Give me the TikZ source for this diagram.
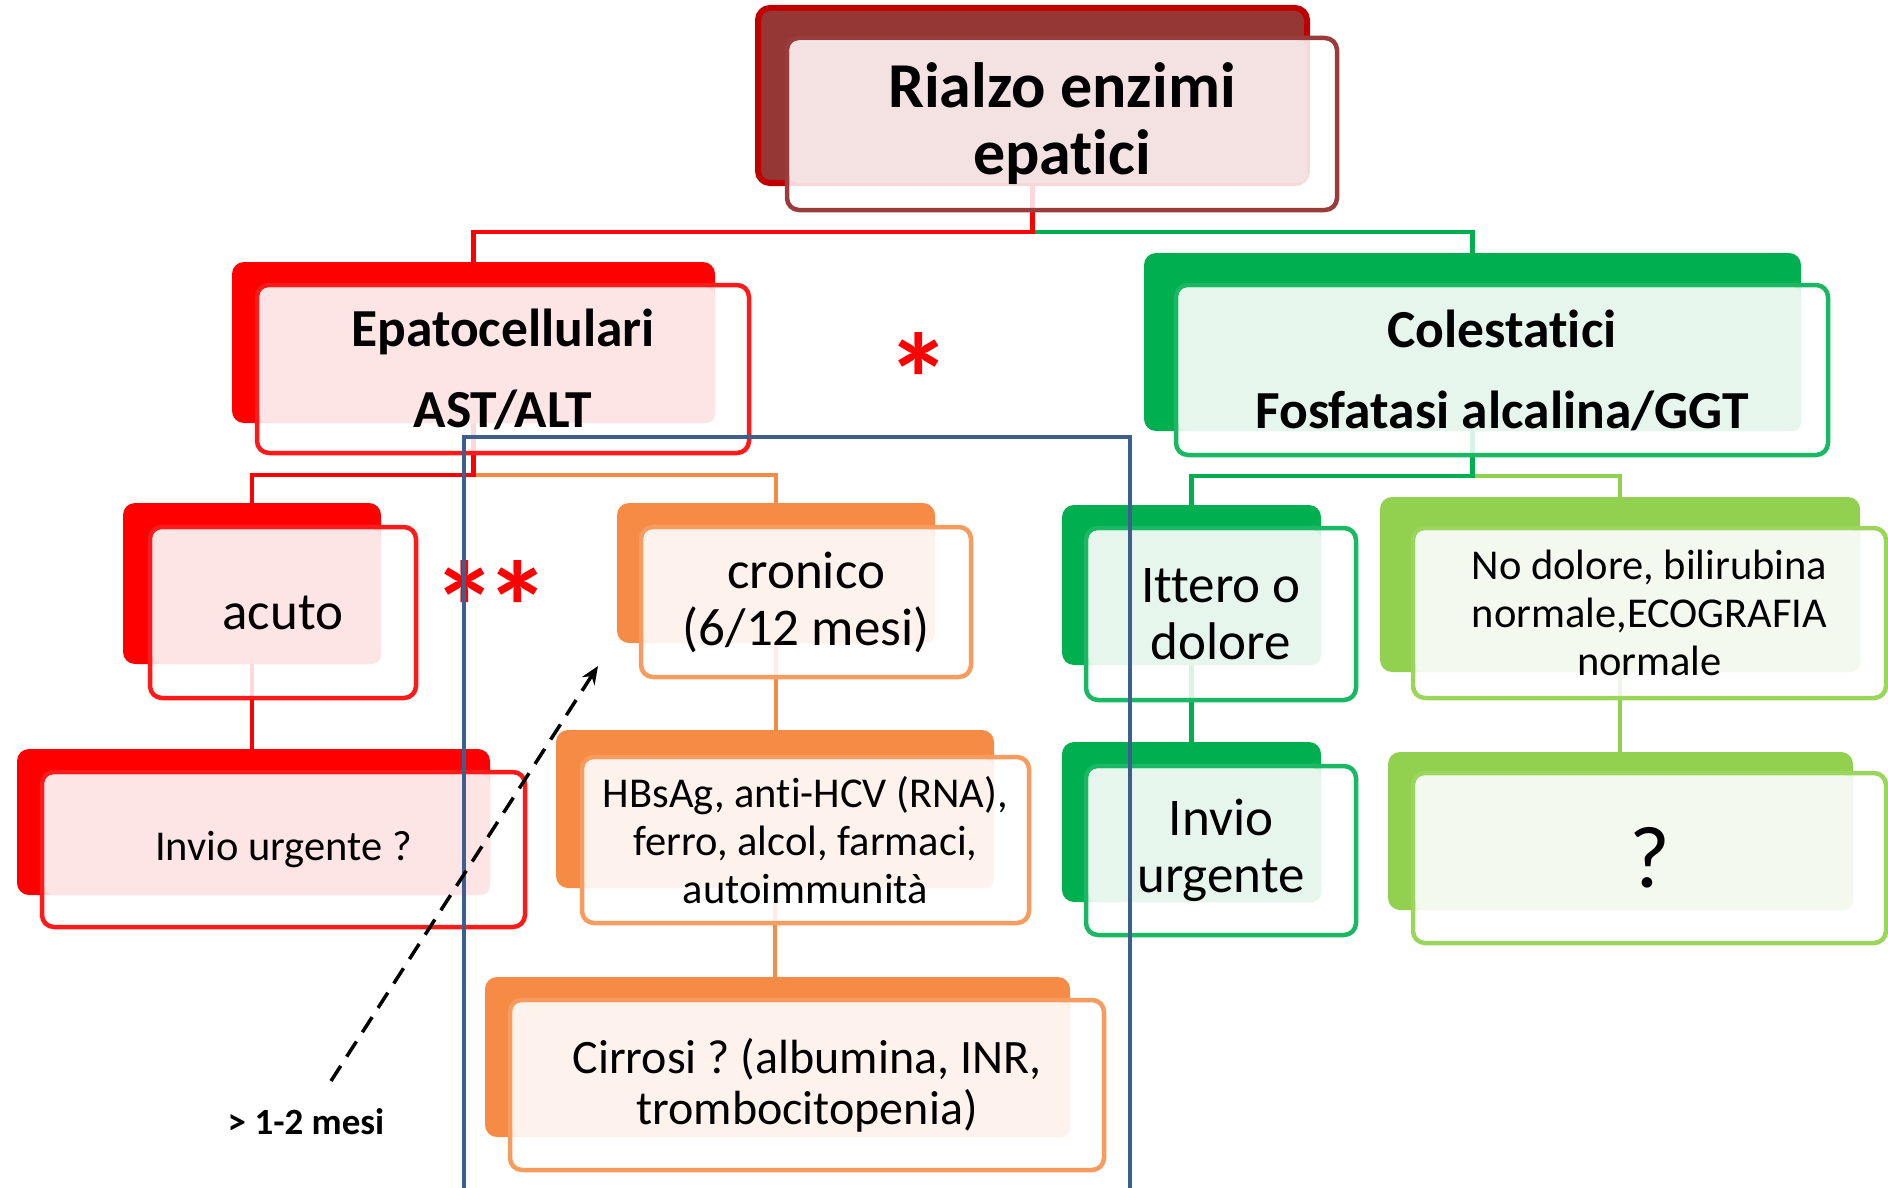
\documentclass[tikz,border=0pt]{standalone}
\usepackage{fontspec}
\setmainfont{Carlito}[Ligatures={NoCommon}]
\usetikzlibrary{arrows.meta}
\pgfdeclarelayer{bg}
\pgfsetlayers{bg,main}
\frenchspacing

\definecolor{dred}{HTML}{953735}
\definecolor{dredb}{HTML}{9B3C3C}
\definecolor{dredo}{HTML}{C00000}
\definecolor{dredp}{HTML}{F4E2E2}
\definecolor{rd}{HTML}{FF0000}
\definecolor{rdb}{HTML}{FF1A1A}
\definecolor{rdp}{HTML}{FDE5E5}
\definecolor{org}{HTML}{F68B45}
\definecolor{orgb}{HTML}{F89B5E}
\definecolor{orgp}{HTML}{FEF2EC}
\definecolor{grn}{HTML}{00B050}
\definecolor{grnb}{HTML}{19B862}
\definecolor{grnp}{HTML}{E6F6ED}
\definecolor{lgr}{HTML}{92D050}
\definecolor{lgrb}{HTML}{9AD55C}
\definecolor{lgrp}{HTML}{F3F9EE}
\definecolor{blu}{HTML}{3C5F8E}

\tikzset{
  backbox/.style={rectangle, rounded corners=12pt, draw=none, inner sep=0pt, outer sep=0pt},
  frontbox/.style={rectangle, rounded corners=12pt, line width=4.5pt, fill=white, fill opacity=.85, inner sep=0pt, outer sep=0pt},
  conn/.style={line width=4.5pt},
  ttl/.style={align=center, inner sep=0pt, font=\fontsize{64}{67}\selectfont\bfseries},
  hdr/.style={align=center, inner sep=0pt, font=\fontsize{53.5}{81}\selectfont\bfseries},
  big/.style={align=center, inner sep=0pt, font=\fontsize{53}{57}\selectfont},
  sml/.style={align=center, inner sep=0pt, font=\fontsize{42.5}{48}\selectfont},
  med/.style={align=center, inner sep=0pt, font=\fontsize{48}{51}\selectfont},
  qm/.style={align=center, inner sep=0pt, font=\fontsize{88}{90}\selectfont},
  astx/.style={anchor=base, inner sep=0pt, text=rd, font=\fontsize{130}{130}\selectfont\bfseries},
  darr/.style={line width=3.5pt, dash pattern=on 18pt off 11pt, -{Stealth[length=18pt,width=15pt]}},
}

% #1 name, #2 back centre, #3 back size, #4 front centre, #5 front size, #6 colour prefix, #7 text style, #8 text
\newcommand{\dblbox}[8]{%
  \node[backbox, fill=#6, #3] (#1b) at (#2) {};
  \node[frontbox, draw=#6b, #5] (#1f) at (#4) {};
  \fill[#6p, rounded corners=9pt] ([shift={(2.5,2.5)}]#1f.north west) rectangle (#1b.south east);
  \node[#7] (#1t) at (#1f.center) {#8};
}

\begin{document}
\begin{tikzpicture}[x=1pt,y=-1pt]
\useasboundingbox (0,0) rectangle (1888,1188);

\dblbox{T}{1032.5,95.5}{minimum width=549pt,minimum height=175pt,draw=dredo,line width=6pt}{1062,124}{minimum width=550pt,minimum height=172pt}{dred}{ttl}{Rialzo enzimi\\epatici}
\dblbox{E}{473.5,342.5}{minimum width=483pt,minimum height=161pt}{503,369}{minimum width=492pt,minimum height=168pt}{rd}{hdr}{Epatocellulari\\AST/ALT}
\dblbox{C}{1472.5,342}{minimum width=657pt,minimum height=178pt}{1502,370}{minimum width=652pt,minimum height=170pt}{grn}{hdr}{Colestatici\\Fosfatasi alcalina/GGT}
\dblbox{A}{252,583.5}{minimum width=258pt,minimum height=161pt}{283,612.5}{minimum width=266pt,minimum height=171pt}{rd}{big}{acuto}
\dblbox{IU}{253.5,822}{minimum width=473pt,minimum height=146pt}{283.5,849.5}{minimum width=483pt,minimum height=155pt}{rd}{sml}{Invio urgente ?}
\dblbox{CR}{776,573}{minimum width=318pt,minimum height=140pt}{806,602}{minimum width=330pt,minimum height=150pt}{org}{big}{cronico\\(6/12 mesi)}
\dblbox{HB}{775,809}{minimum width=438pt,minimum height=158pt}{805.5,840}{minimum width=447pt,minimum height=166pt}{org}{sml}{HBsAg, anti-HCV (RNA),\\ferro, alcol, farmaci,\\autoimmunità}
\dblbox{CI}{777.5,1057}{minimum width=585pt,minimum height=160pt}{807,1085}{minimum width=594pt,minimum height=170pt}{org}{med}{Cirrosi ? (albumina, INR,\\trombocitopenia)}
\dblbox{IT}{1191.5,585}{minimum width=259pt,minimum height=160pt}{1221,614}{minimum width=270pt,minimum height=172pt}{grn}{big}{Ittero o\\dolore}
\dblbox{IUV}{1191.5,822}{minimum width=259pt,minimum height=160pt}{1221,850.5}{minimum width=270pt,minimum height=169pt}{grn}{big}{Invio\\urgente}
\dblbox{ND}{1620,584.5}{minimum width=480pt,minimum height=175pt}{1649.5,613}{minimum width=473pt,minimum height=170pt}{lgr}{sml}{No dolore, bilirubina\\normale,ECOGRAFIA\\normale}
\dblbox{Q}{1620.5,831}{minimum width=465pt,minimum height=158pt}{1649.5,858}{minimum width=473pt,minimum height=170pt}{lgr}{qm}{?}

\begin{pgfonlayer}{bg}
  \coordinate (J0) at (0,232);
  \coordinate (J1) at (0,475);
  \coordinate (J2) at (0,476);
  \draw[conn, grn] (Tb.south |- J0) -| (Cb.north);
  \draw[conn, rd] (Tb.south) -- (Tb.south |- J0) -| (Eb.north);
  \draw[conn, org] (Eb.south |- J1) -| (CRb.north);
  \draw[conn, rd] (Eb.south) -- (Eb.south |- J1) -| (Ab.north);
  \draw[conn, rd] (Ab.south) -- (Ab.south |- IUb.north);
  \draw[conn, org] (CRb.south) -- (CRb.south |- HBb.north);
  \draw[conn, org] (HBb.south) -- (HBb.south |- CIb.north);
  \draw[conn, lgr] (Cb.south |- J2) -| (NDb.north);
  \draw[conn, grn] (Cb.south) -- (Cb.south |- J2) -| (ITb.north);
  \draw[conn, grn] (ITb.south) -- (ITb.south |- IUVb.north);
  \draw[conn, lgr] (NDb.south) -- (NDb.south |- Qb.north);
\end{pgfonlayer}

% asterisks
\node[astx] (s0) at (919,425) {*};
\node[astx] (s1) at (465,653) {*};
\node[astx] (s2) at (518,653) {*};

% blue frame
\draw[blu, line width=4.5pt] (464,1188) -- (464,437) -- (1130,437) -- (1130,1188);

% dashed arrow and label
\node[font=\fontsize{37}{39}\selectfont\bfseries, inner sep=0pt] (lbl) at (306,1122) {> 1-2 mesi};
\coordinate (a0) at (331,1081);
\coordinate (a1) at (598,666);
\draw[darr] (a0) -- (a1);
\end{tikzpicture}
\end{document}
